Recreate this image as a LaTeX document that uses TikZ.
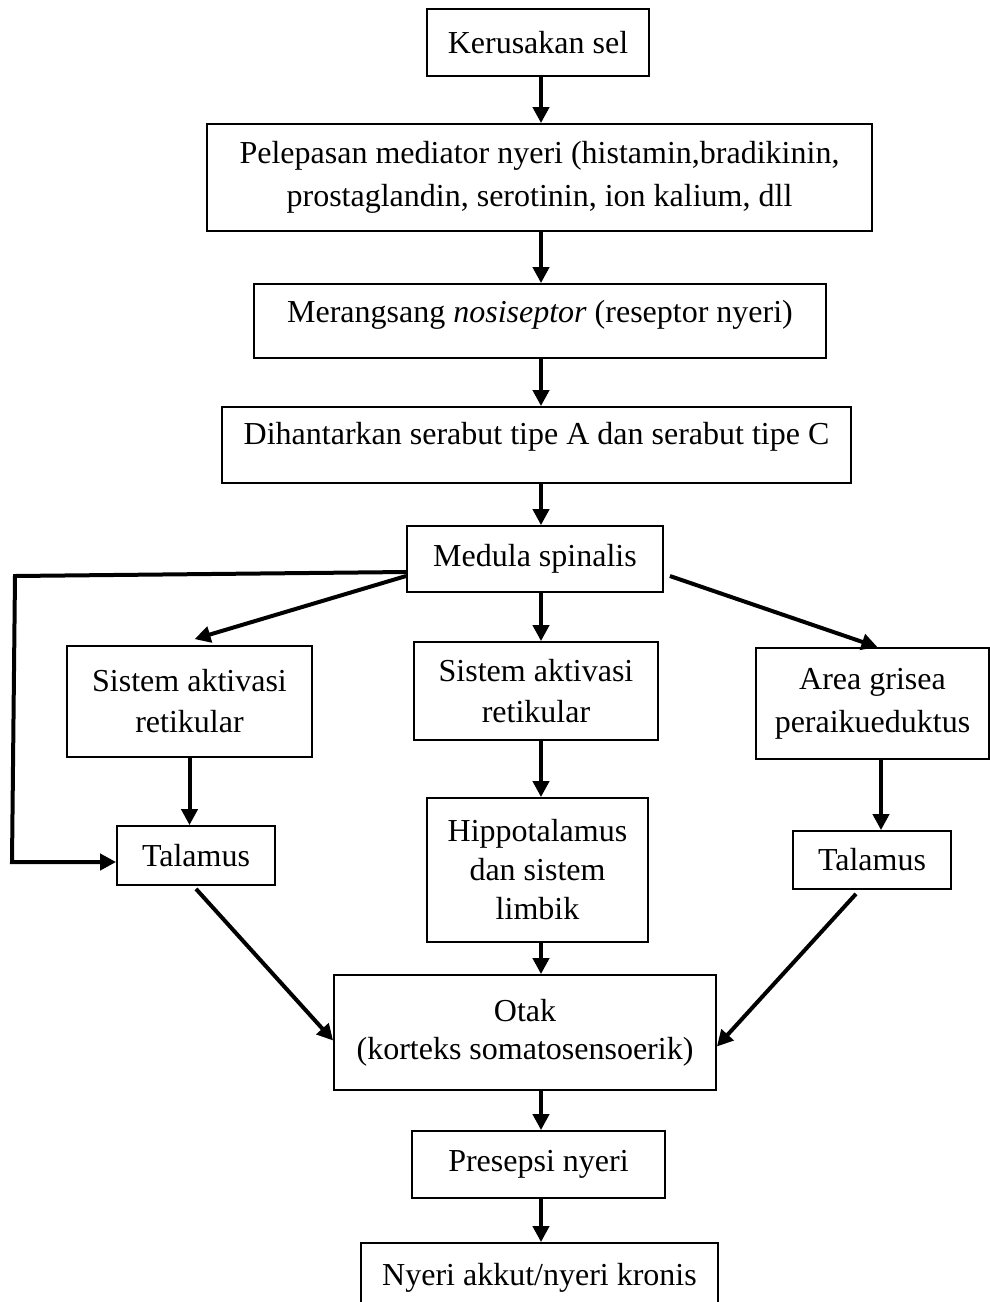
\documentclass[tikz,border=0pt]{standalone}
\usepackage{fontspec}
\setmainfont{Liberation Serif}
\usetikzlibrary{arrows.meta}
\begin{document}
\begin{tikzpicture}[x=1pt,y=-1pt,
 box/.style={draw, line width=1.8pt, rectangle, inner sep=0pt, align=center, font=\fontsize{32}{41}\selectfont},
 arr/.style={line width=4pt, -{Triangle[length=16pt,width=16pt]}}]
\useasboundingbox (0,0) rectangle (990,1302);
\clip (0,0) rectangle (990,1302);
\node[box, minimum width=222pt, minimum height=67pt] (k) at (538,42.5) {Kerusakan sel};
\node[box, minimum width=665pt, minimum height=107pt, font=\fontsize{32}{43}\selectfont] (p) at (539.5,177.5) {Pelepasan mediator nyeri (histamin,bradikinin,\\ prostaglandin, serotinin, ion kalium, dll};
\node[box, minimum width=572pt, minimum height=74pt, text height=22pt, text depth=19pt] (m) at (540,321) {Merangsang \textit{nosiseptor} (reseptor nyeri)};
\node[box, minimum width=629pt, minimum height=76pt, text height=22pt, text depth=23pt] (d) at (536.5,445) {Dihantarkan serabut tipe A dan serabut tipe C};
\node[box, minimum width=256pt, minimum height=66pt] (med) at (535,559) {Medula spinalis};
\node[box, minimum width=245pt, minimum height=111pt] (sarl) at (189.5,701.5) {Sistem aktivasi\\retikular};
\node[box, minimum width=244pt, minimum height=98pt] (sarm) at (536,691) {Sistem aktivasi\\retikular};
\node[box, minimum width=233pt, minimum height=111pt, font=\fontsize{32}{43}\selectfont] (area) at (872.5,703.5) {Area grisea\\peraikueduktus};
\node[box, minimum width=158pt, minimum height=59pt] (tl) at (196,855.5) {Talamus};
\node[box, minimum width=221pt, minimum height=144pt, font=\fontsize{32}{39}\selectfont] (hip) at (537.5,870) {Hippotalamus\\dan sistem\\limbik};
\node[box, minimum width=158pt, minimum height=58pt] (tr) at (872,860) {Talamus};
\node[box, minimum width=382pt, minimum height=115pt, font=\fontsize{32}{38}\selectfont] (otak) at (525,1032.5) {Otak\\(korteks somatosensoerik)};
\node[box, minimum width=253pt, minimum height=67pt] (pre) at (538.5,1164.5) {Presepsi nyeri};
\node[box, minimum width=357pt, minimum height=70pt] (ny) at (539.5,1278) {Nyeri akkut/nyeri kronis};
\coordinate (sp) at (541,0);
\coordinate (rs) at (881,0);
\coordinate (c1) at (15,576);
\coordinate (c2) at (12,862);
\draw[arr] (k.south -| sp) -- (p.north -| sp);
\draw[arr] (p.south -| sp) -- (m.north -| sp);
\draw[arr] (m.south -| sp) -- (d.north -| sp);
\draw[arr] (d.south -| sp) -- (med.north -| sp);
\draw[arr] (med.south -| sp) -- (sarm.north -| sp);
\draw[arr] (sarm.south -| sp) -- (hip.north -| sp);
\draw[arr] (hip.south -| sp) -- (otak.north -| sp);
\draw[arr] (otak.south -| sp) -- (pre.north -| sp);
\draw[arr] (pre.south -| sp) -- (ny.north -| sp);
\draw[arr] ([yshift=-17pt]med.west) -- ([xshift=5pt,yshift=6pt]sarl.north);
\draw[arr] ([xshift=6pt,yshift=-17pt]med.east) -- ([xshift=5pt]area.north);
\draw[arr] ([yshift=-13pt]med.west) -- (c1) -- (c2) -- (tl.west |- c2);
\draw[arr] (sarl.south) -- (sarl.south |- tl.north);
\draw[arr] (area.south -| rs) -- (tr.north -| rs);
\draw[arr] ([yshift=-3pt]tl.south) -- ([yshift=-8pt]otak.west);
\draw[arr] ([xshift=-16pt,yshift=-4pt]tr.south) -- ([yshift=-14pt]otak.east);
\end{tikzpicture}
\end{document}
